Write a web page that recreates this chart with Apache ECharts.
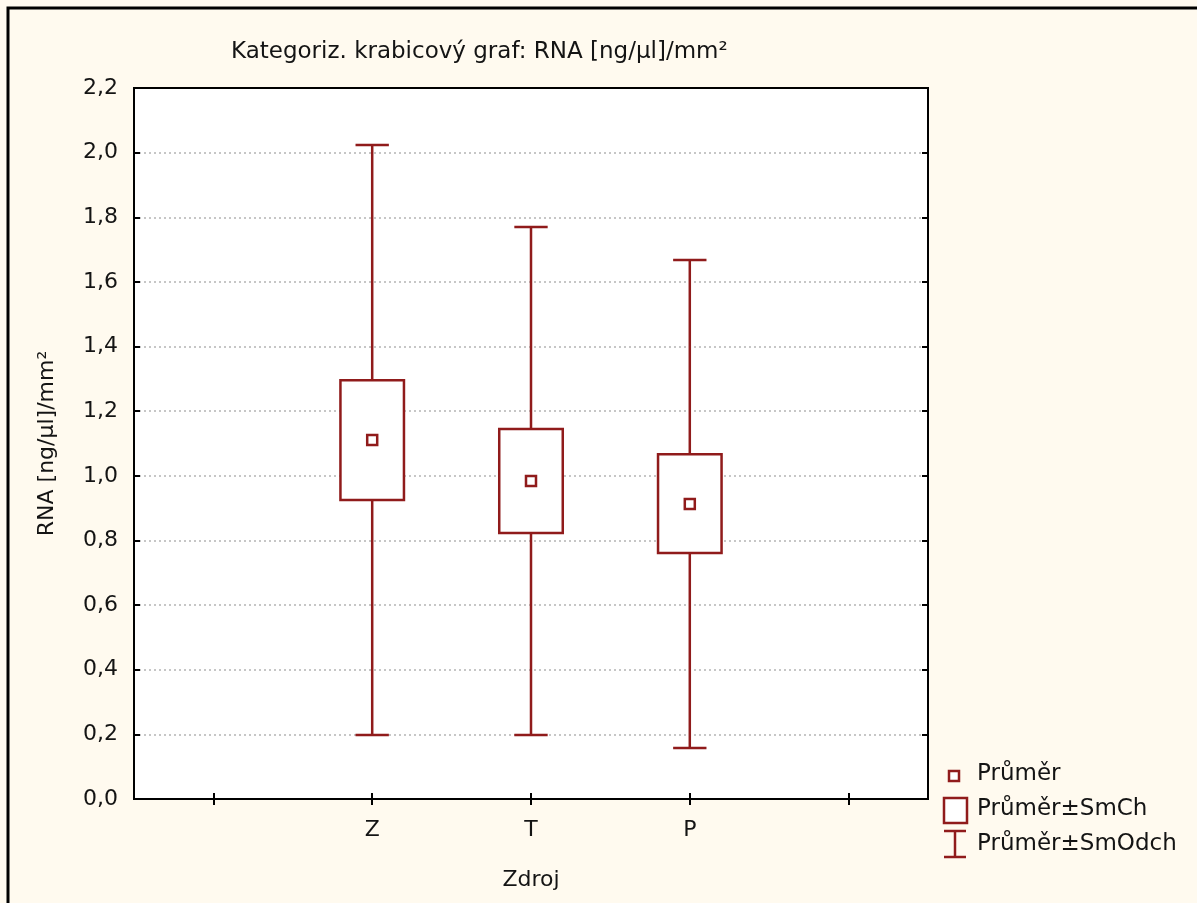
<!DOCTYPE html>
<html>
<head>
<meta charset="utf-8">
<script src="https://cdn.jsdelivr.net/npm/echarts@6/dist/echarts.min.js"></script>
<style>
html,body{margin:0;padding:0;background:#fffaef;}
#c{width:1197px;height:903px;}
</style>
</head>
<body>
<div id="c"></div>
<script>
// ---- data ----
const categories = ['Z', 'T', 'P'];
const axisCategories = ['', 'Z', 'T', 'P', ''];
const means      = [1.111, 0.984, 0.913];   // Průměr
const boxLow     = [0.925, 0.823, 0.761];   // Průměr - SmCh
const boxHigh    = [1.296, 1.145, 1.067];   // Průměr + SmCh
const whiskLow   = [0.198, 0.198, 0.158];   // Průměr - SmOdch
const whiskHigh  = [2.024, 1.770, 1.668];   // Průměr + SmOdch
const yTicks = { min: 0, max: 2.2, interval: 0.2 };

const RED = '#901b1b';
const FONT = 'DejaVu Sans';
const TXT = '#141414';

const chart = echarts.init(document.getElementById('c'));

const boxData = categories.map((c, i) => [c, boxLow[i], boxHigh[i]]);
const whiskData = categories.map((c, i) => [c, whiskLow[i], whiskHigh[i]]);
const meanData = categories.map((c, i) => [c, means[i]]);

const tickCommon = { show: true, inside: true, length: 6, lineStyle: { color: '#000', width: 2 } };

const option = {
  backgroundColor: '#fffaef',
  animation: false,
  title: {
    text: 'Kategoriz. krabicový graf: RNA [ng/µl]/mm²',
    left: 226, top: 36,
    textStyle: { fontFamily: FONT, fontSize: 23, fontWeight: 'normal', color: TXT }
  },
  grid: { left: 134, top: 88, width: 794, height: 711, show: true, backgroundColor: '#ffffff', borderColor: '#000', borderWidth: 2 },
  xAxis: [
    {
      type: 'category', data: axisCategories, position: 'bottom', boundaryGap: true, z: 10,
      name: 'Zdroj', nameLocation: 'middle', nameGap: 70,
      nameTextStyle: { fontFamily: FONT, fontSize: 22, color: TXT },
      axisLine: { lineStyle: { color: '#000', width: 2 } },
      axisTick: Object.assign({ alignWithLabel: true }, tickCommon),
      axisLabel: { fontFamily: FONT, fontSize: 22, color: TXT, margin: 20 },
      splitLine: { show: false }
    },
    {
      type: 'category', data: axisCategories, position: 'top', boundaryGap: true, z: 10,
      axisLine: { lineStyle: { color: '#000', width: 2 } },
      axisTick: Object.assign({ alignWithLabel: true }, tickCommon),
      axisLabel: { show: false }, splitLine: { show: false }
    }
  ],
  yAxis: [
    {
      type: 'value', min: yTicks.min, max: yTicks.max, interval: yTicks.interval, position: 'left',
      name: 'RNA [ng/µl]/mm²', nameLocation: 'middle', nameGap: 76,
      nameTextStyle: { fontFamily: FONT, fontSize: 22, color: TXT },
      axisLine: { show: true, lineStyle: { color: '#000', width: 2 } },
      axisTick: tickCommon,
      axisLabel: { fontFamily: FONT, fontSize: 22, color: TXT, margin: 16,
        formatter: v => v.toFixed(1).replace('.', ',') },
      splitLine: { show: true, showMinLine: false, showMaxLine: false,
        lineStyle: { color: '#b4b4b4', width: 1.5, type: [2, 3] } }
    },
    {
      type: 'value', min: yTicks.min, max: yTicks.max, interval: yTicks.interval, position: 'right', z: 10,
      axisLine: { show: true, lineStyle: { color: '#000', width: 2 } },
      axisTick: tickCommon, axisLabel: { show: false }, splitLine: { show: false }
    }
  ],
  series: [
    {
      name: 'Průměr±SmOdch', type: 'custom', z: 2,
      data: whiskData,
      encode: { x: 0, y: [1, 2] },
      renderItem: function (params, api) {
        const x = api.value(0);
        const lo = api.coord([x, api.value(1)]);
        const hi = api.coord([x, api.value(2)]);
        const cw = api.size([1, 0])[0] * 0.21;
        const st = { stroke: RED, lineWidth: 2.5 };
        return { type: 'group', children: [
          { type: 'line', shape: { x1: lo[0], y1: lo[1], x2: hi[0], y2: hi[1] }, style: st },
          { type: 'line', shape: { x1: hi[0] - cw / 2, y1: hi[1], x2: hi[0] + cw / 2, y2: hi[1] }, style: st },
          { type: 'line', shape: { x1: lo[0] - cw / 2, y1: lo[1], x2: lo[0] + cw / 2, y2: lo[1] }, style: st }
        ]};
      }
    },
    {
      name: 'Průměr±SmCh', type: 'custom', z: 3,
      data: boxData,
      encode: { x: 0, y: [1, 2] },
      renderItem: function (params, api) {
        const x = api.value(0);
        const lo = api.coord([x, api.value(1)]);
        const hi = api.coord([x, api.value(2)]);
        const bw = api.size([1, 0])[0] * 0.4;
        return { type: 'rect', shape: { x: lo[0] - bw / 2, y: hi[1], width: bw, height: lo[1] - hi[1] },
          style: { fill: '#ffffff', stroke: RED, lineWidth: 2.5 } };
      }
    },
    {
      name: 'Průměr', type: 'scatter', z: 4,
      data: meanData,
      symbol: 'rect', symbolSize: 10,
      itemStyle: { color: '#ffffff', borderColor: RED, borderWidth: 2.5, opacity: 1 }
    }
  ],
  graphic: [
    { type: 'rect', shape: { x: 8, y: 8, width: 1400, height: 1200 }, style: { fill: 'none', stroke: '#000', lineWidth: 3 }, silent: true },
    // legend
    { type: 'rect', shape: { x: 949, y: 771, width: 10, height: 10 }, style: { fill: '#fff', stroke: RED, lineWidth: 2.5 } },
    { type: 'text', left: 977, top: 763, style: { text: 'Průměr', font: '23px "DejaVu Sans"', fill: TXT } },
    { type: 'rect', shape: { x: 944, y: 798, width: 23, height: 25 }, style: { fill: '#fff', stroke: RED, lineWidth: 2.5 } },
    { type: 'text', left: 977, top: 798, style: { text: 'Průměr±SmCh', font: '23px "DejaVu Sans"', fill: TXT } },
    { type: 'line', shape: { x1: 955, y1: 831, x2: 955, y2: 857 }, style: { stroke: RED, lineWidth: 2.5 } },
    { type: 'line', shape: { x1: 944, y1: 831, x2: 966, y2: 831 }, style: { stroke: RED, lineWidth: 2.5 } },
    { type: 'line', shape: { x1: 944, y1: 857, x2: 966, y2: 857 }, style: { stroke: RED, lineWidth: 2.5 } },
    { type: 'text', left: 977, top: 833, style: { text: 'Průměr±SmOdch', font: '23px "DejaVu Sans"', fill: TXT } }
  ]
};
chart.setOption(option);
</script>
</body>
</html>
